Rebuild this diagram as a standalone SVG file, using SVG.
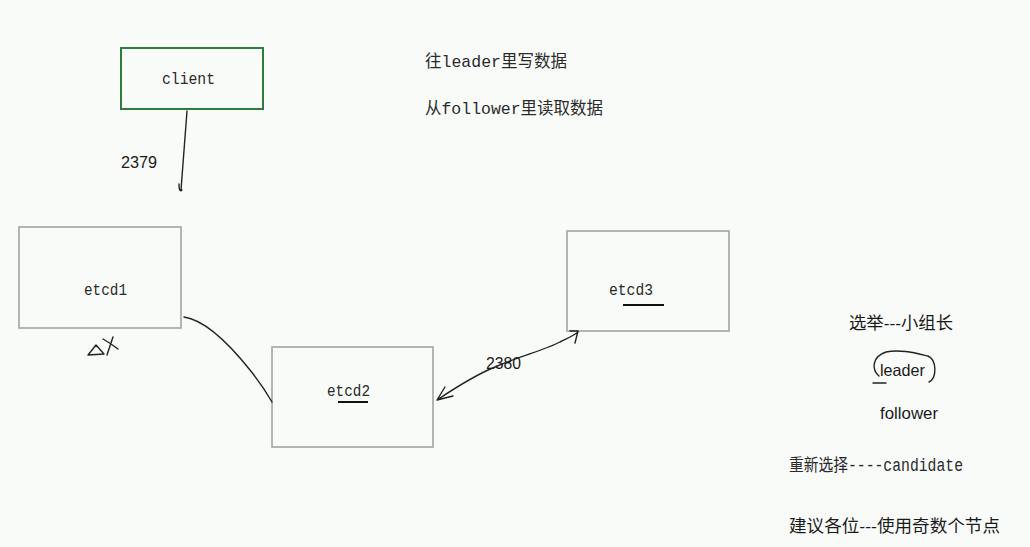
<svg xmlns="http://www.w3.org/2000/svg" width="1030" height="547" viewBox="0 0 1030 547">
<style>
.bg{fill:#f9fbf9}
.box{fill:none;stroke:#a3a3a3;stroke-width:1.6}
.cbox{fill:none;stroke:#2f7d3d;stroke-width:2}
.mono{font-family:"Liberation Mono","Noto Sans CJK SC",monospace;fill:#2a2a2a}
.sans{font-family:"Liberation Sans","Noto Sans CJK SC",sans-serif;fill:#1a1a1a}
.ink{fill:none;stroke:#222;stroke-width:1.4;stroke-linecap:round;stroke-linejoin:round}
.ul{stroke:#111;stroke-width:2}
</style>
<rect class="bg" x="0" y="0" width="1030" height="547"/>

<g id="client">
<rect class="cbox" x="121" y="48" width="142" height="61"/>
<text class="mono" x="162" y="84" font-size="16.5" textLength="53" lengthAdjust="spacingAndGlyphs">client</text>
</g>

<g id="etcd1">
<rect class="box" x="19" y="227" width="162" height="101"/>
<text class="mono" x="84" y="295" font-size="16.5" textLength="43" lengthAdjust="spacingAndGlyphs">etcd1</text>
<path class="ink" d="M88,355 L96,345 L104,354 Z M103,339 Q110,343 118,349 M107,355 L113,337" stroke-width="1.8"/>
</g>

<g id="etcd2">
<rect class="box" x="272" y="347" width="161" height="100"/>
<text class="mono" x="327" y="396" font-size="16.5" textLength="43" lengthAdjust="spacingAndGlyphs">etcd2</text>
<line class="ul" x1="338" y1="402" x2="368" y2="402"/>
</g>

<g id="etcd3">
<rect class="box" x="567" y="231" width="162" height="100"/>
<text class="mono" x="609" y="295" font-size="16.5" textLength="44" lengthAdjust="spacingAndGlyphs">etcd3</text>
<line class="ul" x1="623" y1="305" x2="664" y2="305"/>
</g>

<g id="connectors">
<path class="ink" d="M187,111 C185,140 183,165 181,190 M179,184 Q179,193 182,190"/>
<text class="sans" x="121" y="168" font-size="16" textLength="36" lengthAdjust="spacingAndGlyphs">2379</text>
<path class="ink" d="M184,317 C205,320 230,345 250,370 C262,385 268,395 272,402"/>
<path class="ink" d="M437,400 C455,388 475,375 495,367 C520,356 545,350 560,342 C568,338 573,336 578,332 M445,387 L437,400 L453,396 M570,331 L578,331 L575,343"/>
<text class="sans" x="486" y="369" font-size="16" textLength="35" lengthAdjust="spacingAndGlyphs">2380</text>
</g>

<g id="notes">
<text class="mono" x="425" y="67" font-size="17" textLength="142" lengthAdjust="spacingAndGlyphs">往leader里写数据</text>
<text class="mono" x="425" y="114" font-size="17" textLength="178" lengthAdjust="spacingAndGlyphs">从follower里读取数据</text>
<text class="sans" x="849" y="329" font-size="17" textLength="104" lengthAdjust="spacingAndGlyphs">选举---小组长</text>
<text class="sans" x="880" y="376" font-size="16.5" textLength="45" lengthAdjust="spacingAndGlyphs">leader</text>
<path class="ink" d="M879,376 C872,370 871,357 886,352 C900,349 915,353 928,356 C937,360 937,378 929,382 M873,383 L886,383" stroke-width="1.6"/>
<text class="sans" x="880" y="419" font-size="16.5" textLength="58" lengthAdjust="spacingAndGlyphs">follower</text>
<text class="mono" x="789" y="471" font-size="17.5" textLength="174" lengthAdjust="spacingAndGlyphs">重新选择----candidate</text>
<text class="sans" x="789" y="532" font-size="17" textLength="211" lengthAdjust="spacingAndGlyphs">建议各位---使用奇数个节点</text>
</g>
</svg>
